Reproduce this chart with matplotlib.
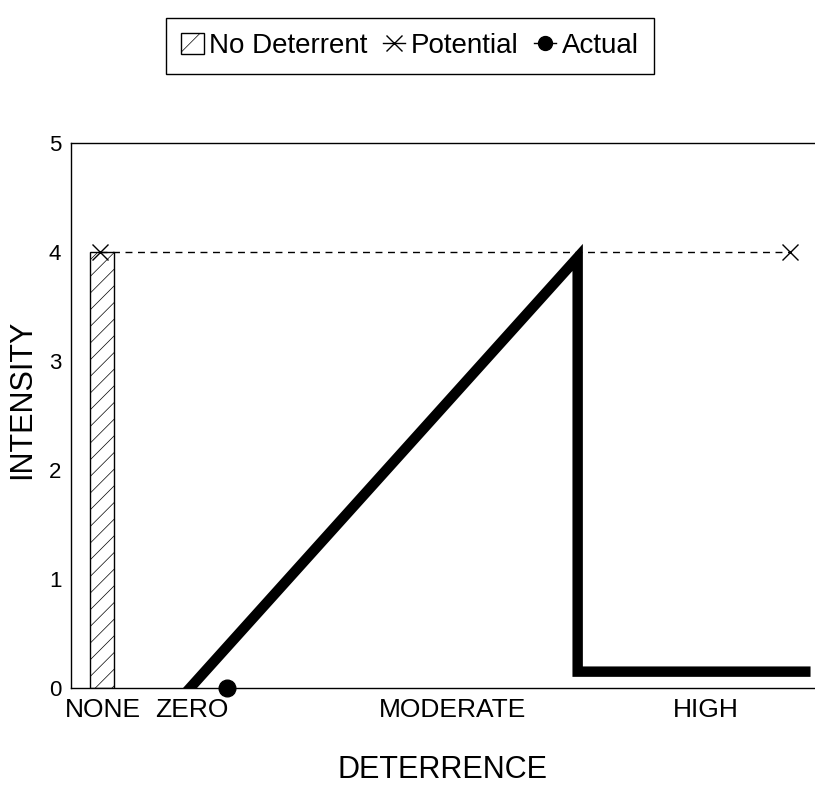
import matplotlib.pyplot as plt
from matplotlib.patches import Patch
from matplotlib.lines import Line2D

plt.rcParams['font.family'] = ['Liberation Sans', 'DejaVu Sans']
plt.rcParams['hatch.linewidth'] = 0.5

# Data
categories = ['NONE', 'ZERO', 'MODERATE', 'HIGH']
category_pos = [0.43, 1.63, 5.13, 8.53]

bar_x = [0.42]
bar_height = [4]

potential_x = [0.39, 9.66]
potential_y = [4, 4]

actual_x = [1.6, 6.81, 6.81, 9.87]
actual_y = [0, 3.95, 0.15, 0.15]

actual_dot_x = [2.1]
actual_dot_y = [0]

fig = plt.figure(figsize=(8.15, 7.87), dpi=100)
ax = fig.add_axes([0.0871, 0.1258, 0.9129, 0.6925])

ax.bar(bar_x, bar_height, width=0.32, color='white', edgecolor='black',
       hatch='//', linewidth=1.0, zorder=2)

ax.plot(potential_x, potential_y, linestyle=(0, (5, 4)), color='black',
        linewidth=1.0, marker='x', markersize=12, markeredgewidth=1.0, zorder=3)
ax.plot(actual_x, actual_y, color='black', linewidth=7.5,
        solid_joinstyle='miter', zorder=4)
ax.plot(actual_dot_x, actual_dot_y, 'o', color='black', markersize=12,
        clip_on=False, zorder=5)

ax.set_xlim(0, 10)
ax.set_ylim(0, 5)
ax.set_yticks([0, 1, 2, 3, 4, 5])
ax.set_xticks(category_pos)
ax.set_xticklabels(categories)
ax.tick_params(axis='x', length=0, labelsize=19, pad=7)
ax.tick_params(axis='y', length=0, labelsize=16, pad=7)
ax.spines['right'].set_visible(False)
for s in ['left', 'top', 'bottom']:
    ax.spines[s].set_linewidth(1.0)

ax.set_ylabel('INTENSITY', fontsize=22)
ax.yaxis.label.set_va('center')
ax.yaxis.set_label_coords(-0.066, 0.53)
ax.set_xlabel('DETERRENCE', fontsize=22)
ax.xaxis.set_label_coords(0.5, -0.123)

handles = [
    Patch(facecolor='white', edgecolor='black', hatch='/', linewidth=1.0),
    Line2D([0], [0], color='black', linewidth=1.0, marker='x', markersize=11),
    Line2D([0], [0], color='black', linewidth=1.0, marker='o', markersize=10),
]
labels = ['No Deterrent', 'Potential', 'Actual']
fig.legend(handles, labels, loc='center', bbox_to_anchor=(0.503, 0.9416),
           ncol=3, fontsize=20, frameon=True, fancybox=False, edgecolor='black',
           handlelength=0.8, handleheight=0.8, handletextpad=0.2,
           columnspacing=0.55, borderpad=0.55, borderaxespad=0,
           framealpha=1)
fig.legends[0].get_frame().set_linewidth(1.0)

fig.savefig('out.png', dpi=100)
